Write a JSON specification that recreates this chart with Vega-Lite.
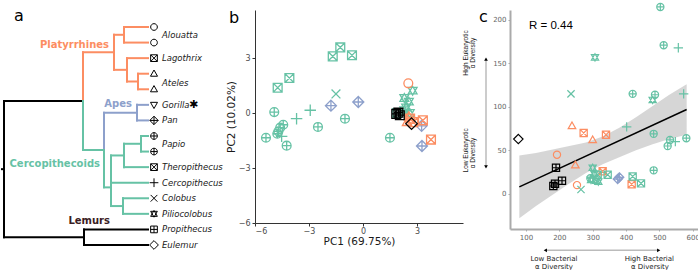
{
"$schema": "https://vega.github.io/schema/vega-lite/v6.json",
"padding": 0,
"background": "white",
"bounds": "flush",
"spacing": 47,
"config": {"view": {"stroke": null}, "font": "DejaVu Sans"},
"datasets": {
"tree": [
{"x":-2,"x2":0,"y":9.13,"y2":9.13,"clade":"Lemurs"},
{"x":0,"x2":0,"y":4.76,"y2":13.5,"clade":"Lemurs"},
{"x":0,"x2":79,"y":4.76,"y2":4.76,"clade":"Lemurs"},
{"x":0,"x2":80,"y":13.5,"y2":13.5,"clade":"Lemurs"},
{"x":80,"x2":80,"y":13,"y2":14,"clade":"Lemurs"},
{"x":80,"x2":144,"y":13,"y2":13,"clade":"Lemurs"},
{"x":80,"x2":144,"y":14,"y2":14,"clade":"Lemurs"},
{"x":79,"x2":79,"y":1.625,"y2":4.76,"clade":"Platyrrhines"},
{"x":79,"x2":110,"y":1.625,"y2":1.625,"clade":"Platyrrhines"},
{"x":110,"x2":110,"y":0.5,"y2":2.75,"clade":"Platyrrhines"},
{"x":110,"x2":120,"y":0.5,"y2":0.5,"clade":"Platyrrhines"},
{"x":120,"x2":120,"y":0,"y2":1,"clade":"Platyrrhines"},
{"x":120,"x2":144,"y":0,"y2":0,"clade":"Platyrrhines"},
{"x":120,"x2":144,"y":1,"y2":1,"clade":"Platyrrhines"},
{"x":110,"x2":123,"y":2.75,"y2":2.75,"clade":"Platyrrhines"},
{"x":123,"x2":123,"y":2,"y2":3.5,"clade":"Platyrrhines"},
{"x":123,"x2":144,"y":2,"y2":2,"clade":"Platyrrhines"},
{"x":123,"x2":134,"y":3.5,"y2":3.5,"clade":"Platyrrhines"},
{"x":134,"x2":134,"y":3,"y2":4,"clade":"Platyrrhines"},
{"x":134,"x2":144,"y":3,"y2":3,"clade":"Platyrrhines"},
{"x":134,"x2":144,"y":4,"y2":4,"clade":"Platyrrhines"},
{"x":100,"x2":100,"y":5.5,"y2":7.9,"clade":"Apes"},
{"x":100,"x2":133,"y":5.5,"y2":5.5,"clade":"Apes"},
{"x":133,"x2":133,"y":5,"y2":6,"clade":"Apes"},
{"x":133,"x2":144,"y":5,"y2":5,"clade":"Apes"},
{"x":133,"x2":144,"y":6,"y2":6,"clade":"Apes"},
{"x":79,"x2":79,"y":4.76,"y2":7.9,"clade":"Cercopithecoids"},
{"x":79,"x2":100,"y":7.9,"y2":7.9,"clade":"Cercopithecoids"},
{"x":100,"x2":100,"y":7.9,"y2":10.3,"clade":"Cercopithecoids"},
{"x":100,"x2":107,"y":10.3,"y2":10.3,"clade":"Cercopithecoids"},
{"x":107,"x2":107,"y":8.25,"y2":11.5,"clade":"Cercopithecoids"},
{"x":107,"x2":120,"y":8.25,"y2":8.25,"clade":"Cercopithecoids"},
{"x":120,"x2":120,"y":7.5,"y2":9,"clade":"Cercopithecoids"},
{"x":120,"x2":137,"y":7.5,"y2":7.5,"clade":"Cercopithecoids"},
{"x":137,"x2":137,"y":7,"y2":8,"clade":"Cercopithecoids"},
{"x":137,"x2":144,"y":7,"y2":7,"clade":"Cercopithecoids"},
{"x":137,"x2":144,"y":8,"y2":8,"clade":"Cercopithecoids"},
{"x":120,"x2":144,"y":9,"y2":9,"clade":"Cercopithecoids"},
{"x":107,"x2":144,"y":10,"y2":10,"clade":"Cercopithecoids"},
{"x":107,"x2":119,"y":11.5,"y2":11.5,"clade":"Cercopithecoids"},
{"x":119,"x2":119,"y":11,"y2":12,"clade":"Cercopithecoids"},
{"x":119,"x2":144,"y":11,"y2":11,"clade":"Cercopithecoids"},
{"x":119,"x2":144,"y":12,"y2":12,"clade":"Cercopithecoids"}
],
"tips": [
{"g":"Alouatta","i":0},{"g":"Alouatta","i":1},{"g":"Lagothrix","i":2},{"g":"Ateles","i":3},{"g":"Ateles","i":4},
{"g":"Gorilla","i":5},{"g":"Pan","i":6},{"g":"Papio","i":7},{"g":"Papio","i":8},{"g":"Theropithecus","i":9},
{"g":"Cercopithecus","i":10},{"g":"Colobus","i":11},{"g":"Piliocolobus","i":12},{"g":"Propithecus","i":13},{"g":"Eulemur","i":14}
],
"tiplabels": [
{"name":"Alouatta","i":0.5},{"name":"Lagothrix","i":2},{"name":"Ateles","i":3.6},{"name":"Gorilla","i":5},{"name":"Pan","i":6},
{"name":"Papio","i":7.5},{"name":"Theropithecus","i":9},{"name":"Cercopithecus","i":10},{"name":"Colobus","i":11},
{"name":"Piliocolobus","i":12},{"name":"Propithecus","i":13},{"name":"Eulemur","i":14}
],
"cladelabels": [
{"label":"Platyrrhines","clade":"Platyrrhines","x":105,"i":1.16},
{"label":"Apes","clade":"Apes","x":128,"i":4.95},
{"label":"Cercopithecoids","clade":"Cercopithecoids","x":96,"i":8.8},
{"label":"Lemurs","clade":"Lemurs","x":106,"i":12.46}
],
"star": [{"s":"✱","x":189.5,"i":5}],
"letter_a": [{"t":"a","x":10,"i":-0.385}],
"letter_b": [{"t":"b","x":-7.44,"y":4.91}],
"letter_c": [{"t":"c","x":-41,"y":197.8}],
"pca": [
{"g":"Theropithecus","c":"Cercopithecoids","x":-1.68,"y":3.09},
{"g":"Theropithecus","c":"Cercopithecoids","x":-1.26,"y":3.58},
{"g":"Theropithecus","c":"Cercopithecoids","x":-0.61,"y":3.15},
{"g":"Theropithecus","c":"Cercopithecoids","x":-4.09,"y":1.91},
{"g":"Theropithecus","c":"Cercopithecoids","x":-4.74,"y":1.38},
{"g":"Theropithecus","c":"Cercopithecoids","x":1.9,"y":0.0},
{"g":"Colobus","c":"Cercopithecoids","x":-1.5,"y":1.04},
{"g":"Cercopithecus","c":"Cercopithecoids","x":-2.93,"y":0.15},
{"g":"Cercopithecus","c":"Cercopithecoids","x":-3.69,"y":-0.31},
{"g":"Cercopithecus","c":"Cercopithecoids","x":-4.52,"y":-1.27},
{"g":"Papio","c":"Cercopithecoids","x":-4.93,"y":0.05},
{"g":"Papio","c":"Cercopithecoids","x":-1.0,"y":-0.31},
{"g":"Papio","c":"Cercopithecoids","x":-2.5,"y":-0.76},
{"g":"Papio","c":"Cercopithecoids","x":-4.43,"y":-0.64},
{"g":"Papio","c":"Cercopithecoids","x":-4.6,"y":-0.8},
{"g":"Papio","c":"Cercopithecoids","x":-4.7,"y":-1.0},
{"g":"Papio","c":"Cercopithecoids","x":-4.76,"y":-1.13},
{"g":"Papio","c":"Cercopithecoids","x":-5.39,"y":-1.35},
{"g":"Papio","c":"Cercopithecoids","x":-4.24,"y":-1.78},
{"g":"Papio","c":"Cercopithecoids","x":1.5,"y":-1.35},
{"g":"Piliocolobus","c":"Cercopithecoids","x":2.76,"y":1.22},
{"g":"Piliocolobus","c":"Cercopithecoids","x":2.3,"y":0.82},
{"g":"Piliocolobus","c":"Cercopithecoids","x":2.55,"y":0.62},
{"g":"Piliocolobus","c":"Cercopithecoids","x":2.4,"y":0.3},
{"g":"Piliocolobus","c":"Cercopithecoids","x":2.6,"y":0.0},
{"g":"Piliocolobus","c":"Cercopithecoids","x":2.3,"y":0.15},
{"g":"Pan","c":"Apes","x":-1.78,"y":0.4},
{"g":"Pan","c":"Apes","x":-0.26,"y":0.6},
{"g":"Pan","c":"Apes","x":3.26,"y":-0.7},
{"g":"Pan","c":"Apes","x":3.28,"y":-1.8},
{"g":"Alouatta","c":"Platyrrhines","x":2.52,"y":1.62},
{"g":"Lagothrix","c":"Platyrrhines","x":2.62,"y":-0.3},
{"g":"Lagothrix","c":"Platyrrhines","x":3.33,"y":-0.4},
{"g":"Lagothrix","c":"Platyrrhines","x":3.78,"y":-1.45},
{"g":"Lagothrix","c":"Platyrrhines","x":2.8,"y":-0.5},
{"g":"Ateles","c":"Platyrrhines","x":2.45,"y":-0.5},
{"g":"Ateles","c":"Platyrrhines","x":2.55,"y":-0.2},
{"g":"Eulemur","c":"Lemurs","x":2.7,"y":-0.58},
{"g":"Propithecus","c":"Lemurs","x":1.85,"y":-0.05},
{"g":"Propithecus","c":"Lemurs","x":1.97,"y":0.02},
{"g":"Propithecus","c":"Lemurs","x":2.05,"y":-0.12}
],
"div": [
{"g":"Eulemur","c":"Lemurs","x":77,"y":63},
{"g":"Propithecus","c":"Lemurs","x":190,"y":30},
{"g":"Propithecus","c":"Lemurs","x":208,"y":15},
{"g":"Propithecus","c":"Lemurs","x":187,"y":11.5},
{"g":"Propithecus","c":"Lemurs","x":182,"y":9},
{"g":"Alouatta","c":"Platyrrhines","x":193,"y":45},
{"g":"Alouatta","c":"Platyrrhines","x":253,"y":10},
{"g":"Ateles","c":"Platyrrhines","x":238,"y":78},
{"g":"Ateles","c":"Platyrrhines","x":300,"y":62},
{"g":"Ateles","c":"Platyrrhines","x":248,"y":33},
{"g":"Lagothrix","c":"Platyrrhines","x":273,"y":70},
{"g":"Lagothrix","c":"Platyrrhines","x":340,"y":68},
{"g":"Lagothrix","c":"Platyrrhines","x":330,"y":26},
{"g":"Lagothrix","c":"Platyrrhines","x":417,"y":11},
{"g":"Colobus","c":"Cercopithecoids","x":235,"y":115},
{"g":"Colobus","c":"Cercopithecoids","x":265,"y":5},
{"g":"Piliocolobus","c":"Cercopithecoids","x":480,"y":108},
{"g":"Piliocolobus","c":"Cercopithecoids","x":307,"y":157},
{"g":"Piliocolobus","c":"Cercopithecoids","x":300,"y":30},
{"g":"Piliocolobus","c":"Cercopithecoids","x":305,"y":23},
{"g":"Piliocolobus","c":"Cercopithecoids","x":295,"y":16},
{"g":"Piliocolobus","c":"Cercopithecoids","x":310,"y":15},
{"g":"Piliocolobus","c":"Cercopithecoids","x":317,"y":14},
{"g":"Papio","c":"Cercopithecoids","x":420,"y":115},
{"g":"Papio","c":"Cercopithecoids","x":487,"y":114},
{"g":"Papio","c":"Cercopithecoids","x":483,"y":69},
{"g":"Papio","c":"Cercopithecoids","x":532,"y":62},
{"g":"Papio","c":"Cercopithecoids","x":525,"y":55},
{"g":"Papio","c":"Cercopithecoids","x":581,"y":64},
{"g":"Papio","c":"Cercopithecoids","x":503,"y":215},
{"g":"Papio","c":"Cercopithecoids","x":513,"y":171},
{"g":"Papio","c":"Cercopithecoids","x":483,"y":27},
{"g":"Papio","c":"Cercopithecoids","x":293,"y":18},
{"g":"Cercopithecus","c":"Cercopithecoids","x":573,"y":115},
{"g":"Cercopithecus","c":"Cercopithecoids","x":402,"y":77},
{"g":"Cercopithecus","c":"Cercopithecoids","x":548,"y":60},
{"g":"Cercopithecus","c":"Cercopithecoids","x":557,"y":168},
{"g":"Theropithecus","c":"Cercopithecoids","x":315,"y":22},
{"g":"Theropithecus","c":"Cercopithecoids","x":345,"y":22},
{"g":"Theropithecus","c":"Cercopithecoids","x":420,"y":20},
{"g":"Theropithecus","c":"Cercopithecoids","x":445,"y":12},
{"g":"Pan","c":"Apes","x":380,"y":19},
{"g":"Pan","c":"Apes","x":375,"y":17}
],
"band": [
{"x":80,"y":-28,"y2":44},{"x":130,"y":-14,"y2":47},{"x":180,"y":-1,"y2":51},{"x":230,"y":12,"y2":55},
{"x":280,"y":24,"y2":59},{"x":330,"y":34,"y2":66},{"x":380,"y":42,"y2":76},{"x":430,"y":50,"y2":88},
{"x":480,"y":57,"y2":101},{"x":530,"y":63,"y2":114},{"x":582,"y":68,"y2":126}
],
"fit": [{"x":80,"y":8},{"x":582,"y":97}],
"rottext": [
{"t":"High Eukaryotic","x":-78.6,"y":162},{"t":"α Diversity","x":-57.6,"y":162},
{"t":"Low Eukaryotic","x":-78.6,"y":50},{"t":"α Diversity","x":-57.6,"y":47}
],
"bottext": [
{"t":"Low Bacterial","x":184,"y":-75.5},{"t":"α Diversity","x":184,"y":-84.5},
{"t":"High Bacterial","x":470,"y":-75.5},{"t":"α Diversity","x":472,"y":-84.5}
],
"arrows": [
{"x":-20,"x2":-20,"y":32,"y2":154},
{"x":160,"x2":496,"y":-65,"y2":-65}
],
"heads": [
{"x":-20,"y":155,"s":"triangle-up"},{"x":-20,"y":31,"s":"triangle-down"},
{"x":158,"y":-65,"s":"triangle-left"},{"x":498,"y":-65,"s":"triangle-right"}
],
"rtext": [{"t":"R = 0.44","x":109,"y":193}]
},
"hconcat": [
{
"width": 207, "height": 248,
"layer": [
{"data": {"name": "tree"}, "mark": {"type": "rule", "strokeWidth": 2, "strokeCap": "square"},
 "encoding": {
  "x": {"field": "x", "type": "quantitative", "scale": {"domain": [-3, 204], "nice": false, "zero": false}, "axis": null},
  "x2": {"field": "x2"},
  "y": {"field": "y", "type": "quantitative", "scale": {"domain": [-1.092, 14.836], "nice": false, "zero": false, "reverse": true}, "axis": null},
  "y2": {"field": "y2"},
  "color": {"field": "clade", "type": "nominal", "scale": {"domain": ["Platyrrhines","Apes","Cercopithecoids","Lemurs"], "range": ["#FC8D62","#8DA0CB","#66C2A5","#000000"]}, "legend": null}
 }},
{"data": {"name": "tips"}, "mark": {"type": "point", "filled": false, "stroke": "black", "strokeWidth": 1, "size": 45, "opacity": 1},
 "encoding": {
  "x": {"datum": 150, "type": "quantitative"},
  "y": {"field": "i", "type": "quantitative"},
  "shape": {"field": "g", "type": "nominal", "legend": null, "scale": {
   "domain": ["Alouatta","Lagothrix","Ateles","Gorilla","Pan","Papio","Theropithecus","Cercopithecus","Colobus","Piliocolobus","Propithecus","Eulemur"],
   "range": ["M1,0A1,1,0,1,1,-1,0A1,1,0,1,1,1,0Z","M-1,-1H1V1H-1Z M-1,-1L1,1 M1,-1L-1,1","M0,-1.1L1.05,0.75H-1.05Z","M0,1.1L1.05,-0.75H-1.05Z","M0,-1.25L1.25,0L0,1.25L-1.25,0Z M0,-1.25V1.25 M-1.25,0H1.25","M1,0A1,1,0,1,1,-1,0A1,1,0,1,1,1,0Z M0,-1V1 M-1,0H1","M-1,-1H1V1H-1Z M-1,-1L1,1 M1,-1L-1,1","M0,-1.3V1.3 M-1.3,0H1.3","M-1,-1L1,1 M1,-1L-1,1","M0,-1L1,0.75H-1Z M0,1L1,-0.75H-1Z","M-1,-1H1V1H-1Z M0,-1V1 M-1,0H1","M0,-1.3L1.3,0L0,1.3L-1.3,0Z"]}}
 }},
{"data": {"name": "tiplabels"}, "mark": {"type": "text", "align": "left", "baseline": "middle", "fontStyle": "italic", "fontSize": 8.5, "color": "#1a1a1a"},
 "encoding": {
  "x": {"datum": 158, "type": "quantitative"},
  "y": {"field": "i", "type": "quantitative"},
  "text": {"field": "name"}
 }},
{"data": {"name": "cladelabels"}, "mark": {"type": "text", "align": "right", "baseline": "middle", "fontWeight": "bold", "fontSize": 10},
 "encoding": {
  "x": {"field": "x", "type": "quantitative"},
  "y": {"field": "i", "type": "quantitative"},
  "text": {"field": "label"},
  "color": {"condition": {"test": "datum.clade === 'Lemurs'", "value": "#3a1d24"}, "field": "clade", "type": "nominal", "scale": {"domain": ["Platyrrhines","Apes","Cercopithecoids","Lemurs"], "range": ["#FC8D62","#8DA0CB","#66C2A5","#000000"]}, "legend": null}
 }},
{"data": {"name": "star"}, "mark": {"type": "text", "align": "center", "baseline": "middle", "fontSize": 11, "color": "black"},
 "encoding": {
  "x": {"field": "x", "type": "quantitative"},
  "y": {"field": "i", "type": "quantitative"},
  "text": {"field": "s"}
 }},
{"data": {"name": "letter_a"}, "mark": {"type": "text", "align": "left", "baseline": "alphabetic", "fontSize": 16, "color": "black"},
 "encoding": {
  "x": {"field": "x", "type": "quantitative"},
  "y": {"field": "i", "type": "quantitative"},
  "text": {"field": "t"}
 }}
]
},
{
"width": 208, "height": 213,
"layer": [
{"data": {"name": "pca"},
"mark": {"type": "point", "filled": false, "strokeWidth": 1.3, "size": 78, "opacity": 1},
"encoding": {
 "x": {"field": "x", "type": "quantitative", "scale": {"domain": [-6, 5.56], "nice": false, "zero": false},
  "axis": {"values": [-6,-3,0,3], "title": "PC1 (69.75%)", "grid": false, "domainColor": "#333333", "tickColor": "#333333", "tickSize": 3, "labelFontSize": 8, "labelColor": "#4d4d4d", "labelPadding": 1, "titleFontSize": 10.5, "titleFontWeight": "normal", "titleColor": "#1a1a1a", "titlePadding": 1}},
 "y": {"field": "y", "type": "quantitative", "scale": {"domain": [-6, 5.62], "nice": false, "zero": false},
  "axis": {"values": [-6,-3,0,3], "title": "PC2 (10.02%)", "grid": false, "domainColor": "#333333", "tickColor": "#333333", "tickSize": 3, "labelFontSize": 8, "labelColor": "#4d4d4d", "labelPadding": 2, "titleFontSize": 10.5, "titleFontWeight": "normal", "titleColor": "#1a1a1a", "titlePadding": 2}},
 "color": {"field": "c", "type": "nominal", "scale": {"domain": ["Platyrrhines","Apes","Cercopithecoids","Lemurs"], "range": ["#FC8D62","#8DA0CB","#66C2A5","#000000"]}, "legend": null},
 "shape": {"field": "g", "type": "nominal", "legend": null, "scale": {
   "domain": ["Alouatta","Lagothrix","Ateles","Gorilla","Pan","Papio","Theropithecus","Cercopithecus","Colobus","Piliocolobus","Propithecus","Eulemur"],
   "range": ["M1,0A1,1,0,1,1,-1,0A1,1,0,1,1,1,0Z","M-1,-1H1V1H-1Z M-1,-1L1,1 M1,-1L-1,1","M0,-1.1L1.05,0.75H-1.05Z","M0,1.1L1.05,-0.75H-1.05Z","M0,-1.25L1.25,0L0,1.25L-1.25,0Z M0,-1.25V1.25 M-1.25,0H1.25","M1,0A1,1,0,1,1,-1,0A1,1,0,1,1,1,0Z M0,-1V1 M-1,0H1","M-1,-1H1V1H-1Z M-1,-1L1,1 M1,-1L-1,1","M0,-1.3V1.3 M-1.3,0H1.3","M-1,-1L1,1 M1,-1L-1,1","M0,-1L1,0.75H-1Z M0,1L1,-0.75H-1Z","M-1,-1H1V1H-1Z M0,-1V1 M-1,0H1","M0,-1.3L1.3,0L0,1.3L-1.3,0Z"]}}
}},
{"data": {"name": "letter_b"}, "mark": {"type": "text", "align": "left", "baseline": "alphabetic", "fontSize": 16, "color": "black"},
 "encoding": {
  "x": {"field": "x", "type": "quantitative"},
  "y": {"field": "y", "type": "quantitative"},
  "text": {"field": "t"}
 }}
]
},
{
"width": 188, "height": 219,
"encoding": {
 "x": {"field": "x", "type": "quantitative", "scale": {"domain": [52, 616], "nice": false, "zero": false},
  "axis": {"values": [100,200,300,400,500,600], "title": null, "grid": false, "domainColor": "#aaaaaa", "domainWidth": 2, "tickColor": "#aaaaaa", "tickSize": 2, "labelFont": "DejaVu Sans", "labelFontSize": 7, "labelColor": "#666666", "labelPadding": 2, "labelOverlap": false, "labelFlush": false}},
 "y": {"field": "y", "type": "quantitative", "scale": {"domain": [-40.5, 211.5], "nice": false, "zero": false},
  "axis": {"values": [0,50,100,150,200], "title": null, "grid": false, "zindex": 2, "domainColor": "#aaaaaa", "domainWidth": 2, "tickColor": "#aaaaaa", "tickSize": 2, "labelFont": "DejaVu Sans", "labelFontSize": 7, "labelColor": "#666666", "labelPadding": 2, "labelAlign": "right", "labelBaseline": "middle", "labelOverlap": false, "labelBound": false}}
},
"layer": [
{"data": {"name": "band"}, "mark": {"type": "area", "color": "#999999", "opacity": 0.4},
 "encoding": {"y2": {"field": "y2"}}},
{"data": {"name": "fit"}, "mark": {"type": "line", "color": "black", "strokeWidth": 1.5}, "encoding": {}},
{"data": {"name": "div"}, "mark": {"type": "point", "filled": false, "strokeWidth": 1.2, "size": 52, "opacity": 1},
 "encoding": {
  "color": {"field": "c", "type": "nominal", "scale": {"domain": ["Platyrrhines","Apes","Cercopithecoids","Lemurs"], "range": ["#FC8D62","#8DA0CB","#66C2A5","#222222"]}, "legend": null},
  "shape": {"field": "g", "type": "nominal", "legend": null, "scale": {
   "domain": ["Alouatta","Lagothrix","Ateles","Gorilla","Pan","Papio","Theropithecus","Cercopithecus","Colobus","Piliocolobus","Propithecus","Eulemur"],
   "range": ["M1,0A1,1,0,1,1,-1,0A1,1,0,1,1,1,0Z","M-1,-1H1V1H-1Z M-1,-1L1,1 M1,-1L-1,1","M0,-1.1L1.05,0.75H-1.05Z","M0,1.1L1.05,-0.75H-1.05Z","M0,-1.25L1.25,0L0,1.25L-1.25,0Z M0,-1.25V1.25 M-1.25,0H1.25","M1,0A1,1,0,1,1,-1,0A1,1,0,1,1,1,0Z M0,-1V1 M-1,0H1","M-1,-1H1V1H-1Z M-1,-1L1,1 M1,-1L-1,1","M0,-1.3V1.3 M-1.3,0H1.3","M-1,-1L1,1 M1,-1L-1,1","M0,-1L1,0.75H-1Z M0,1L1,-0.75H-1Z","M-1,-1H1V1H-1Z M0,-1V1 M-1,0H1","M0,-1.3L1.3,0L0,1.3L-1.3,0Z"]}}
 }},
{"data": {"name": "rtext"}, "mark": {"type": "text", "align": "left", "baseline": "middle", "fontSize": 11.5, "font": "Liberation Sans", "color": "black"},
 "encoding": {"text": {"field": "t"}}},
{"data": {"name": "arrows"}, "mark": {"type": "rule", "color": "#bbbbbb", "strokeWidth": 1.5},
 "encoding": {"x2": {"field": "x2"}, "y2": {"field": "y2"}}},
{"data": {"name": "heads"}, "mark": {"type": "point", "filled": true, "color": "black", "size": 14, "opacity": 1},
 "encoding": {"shape": {"field": "s", "type": "nominal", "scale": null, "legend": null}}},
{"data": {"name": "rottext"}, "mark": {"type": "text", "angle": 270, "align": "center", "baseline": "middle", "fontSize": 6.5, "font": "Liberation Sans", "color": "#222222"},
 "encoding": {"text": {"field": "t"}}},
{"data": {"name": "bottext"}, "mark": {"type": "text", "align": "center", "baseline": "middle", "fontSize": 7, "color": "#222222"},
 "encoding": {"text": {"field": "t"}}},
{"data": {"name": "letter_c"}, "mark": {"type": "text", "align": "left", "baseline": "alphabetic", "fontSize": 16, "color": "black"},
 "encoding": {"text": {"field": "t"}}}
]
}
]
}
